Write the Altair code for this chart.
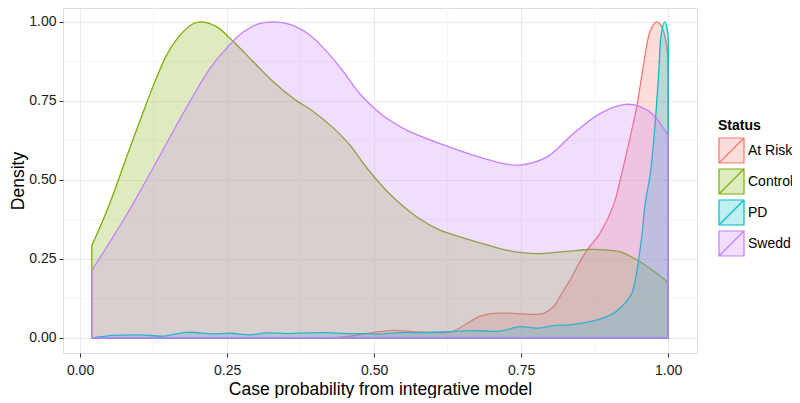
import altair as alt
import pandas as pd

status_order = ["At Risk", "Control", "PD", "Swedd"]
status_colors = ["#F8766D", "#7CAE00", "#00BFC4", "#C77CFF"]
status_fills = ["rgba(248,118,109,0.25)", "rgba(124,174,0,0.25)",
                "rgba(0,191,196,0.25)", "rgba(199,124,255,0.25)"]

x_ticks = [0.0, 0.25, 0.5, 0.75, 1.0]
y_ticks = [0.0, 0.25, 0.5, 0.75, 1.0]
minor_breaks = [0.125, 0.375, 0.625, 0.875]

at_risk_x = [0.02, 0.30, 0.43, 0.46, 0.48, 0.51, 0.533, 0.567, 0.601, 0.632, 0.658, 0.68, 0.703,
             0.737, 0.765, 0.788, 0.805, 0.819, 0.833, 0.848, 0.862, 0.884, 0.907, 0.921, 0.935,
             0.947, 0.958, 0.969, 0.98, 0.989, 0.998, 1.0]
at_risk_y = [0.0, 0.0, 0.001, 0.006, 0.012, 0.02, 0.024, 0.02, 0.017, 0.02, 0.046, 0.069, 0.078,
             0.078, 0.075, 0.078, 0.099, 0.141, 0.183, 0.235, 0.278, 0.331, 0.42, 0.52, 0.632,
             0.737, 0.863, 0.969, 1.0, 0.985, 0.917, 0.822]

control_x = [0.02, 0.04, 0.057, 0.079, 0.102, 0.125, 0.147, 0.17, 0.193, 0.207, 0.232, 0.261,
             0.295, 0.329, 0.363, 0.397, 0.431, 0.459, 0.488, 0.527, 0.573, 0.612, 0.646, 0.68,
             0.714, 0.751, 0.782, 0.828, 0.867, 0.896, 0.918, 0.952, 0.981, 1.0]
control_y = [0.293, 0.377, 0.458, 0.572, 0.688, 0.80, 0.894, 0.958, 0.995, 1.0, 0.985, 0.937,
             0.873, 0.81, 0.758, 0.716, 0.664, 0.61, 0.537, 0.455, 0.383, 0.341, 0.32, 0.301,
             0.283, 0.27, 0.267, 0.274, 0.28, 0.278, 0.273, 0.241, 0.204, 0.175]

pd_x = [0.02, 0.057, 0.102, 0.142, 0.181, 0.227, 0.255, 0.29, 0.317, 0.351, 0.385, 0.42, 0.454,
        0.488, 0.51, 0.544, 0.578, 0.624, 0.669, 0.714, 0.748, 0.777, 0.805, 0.839, 0.879, 0.907,
        0.918, 0.938, 0.947, 0.955, 0.961, 0.97, 0.978, 0.984, 0.988, 0.994, 0.999, 1.0]
pd_y = [0.0, 0.008, 0.01, 0.006, 0.018, 0.013, 0.015, 0.01, 0.016, 0.014, 0.016, 0.017, 0.014,
        0.014, 0.012, 0.017, 0.017, 0.02, 0.023, 0.022, 0.036, 0.031, 0.039, 0.043, 0.057, 0.078,
        0.094, 0.141, 0.215, 0.32, 0.426, 0.525, 0.684, 0.842, 0.958, 1.0, 0.969, 0.9]

swedd_x = [0.02, 0.051, 0.079, 0.108, 0.136, 0.164, 0.193, 0.221, 0.249, 0.278, 0.306, 0.329,
           0.357, 0.391, 0.42, 0.448, 0.476, 0.502, 0.527, 0.556, 0.612, 0.669, 0.714, 0.748,
           0.794, 0.839, 0.884, 0.927, 0.952, 0.975, 1.0]
swedd_y = [0.214, 0.305, 0.389, 0.484, 0.578, 0.673, 0.768, 0.853, 0.917, 0.969, 0.995, 1.0,
           0.992, 0.958, 0.905, 0.842, 0.772, 0.724, 0.688, 0.657, 0.615, 0.578, 0.554, 0.547,
           0.573, 0.647, 0.71, 0.739, 0.732, 0.705, 0.641]

series = [
    ("At Risk", at_risk_x, at_risk_y),
    ("Control", control_x, control_y),
    ("PD", pd_x, pd_y),
    ("Swedd", swedd_x, swedd_y),
]
rows = []
for name, xs, ys in series:
    for xv, yv in zip(xs, ys):
        rows.append({"status": name, "x": xv, "y": yv, "base": 0.0})
df = pd.DataFrame(rows)

FONT = "Liberation Sans"
x_scale = alt.Scale(domain=[-0.029, 1.049], nice=False, zero=False)
y_scale = alt.Scale(domain=[-0.0475, 1.044], nice=False, zero=False)
fill_scale = alt.Scale(domain=status_order, range=status_fills)
stroke_scale = alt.Scale(domain=status_order, range=status_colors)

x_axis = alt.Axis(
    values=x_ticks, format=".2f", title="Case probability from integrative model",
    grid=True, gridColor="#EBEBEB", tickColor="#333333", tickSize=4, domain=False,
    labelFontSize=14, labelColor="#1a1a1a", labelPadding=6, titleFontSize=17.5,
    titleFontWeight="normal", titleColor="black", titlePadding=3,
    labelFont=FONT, titleFont=FONT)
y_axis = alt.Axis(
    values=y_ticks, format=".2f", title="Density",
    grid=True, gridColor="#EBEBEB", tickColor="#333333", tickSize=4, domain=False,
    labelFontSize=14, labelColor="#1a1a1a", labelPadding=3, titleFontSize=17.5,
    titleFontWeight="normal", titleColor="black", titleX=-45, titleBaseline="middle",
    labelFont=FONT, titleFont=FONT)

legend = alt.Legend(
    title="Status", orient="none", legendX=655, legendY=111,
    symbolType="M-1,-1H1V1H-1Z M-1,1L1,-1", symbolSize=625, symbolStrokeWidth=1.2,
    rowPadding=0, labelFontSize=14, titleFontSize=14, titleFontWeight="bold",
    labelOffset=3, titlePadding=4, titleColor="black", labelColor="black",
    labelFont=FONT, titleFont=FONT, padding=0,
)

minor_x = alt.Chart(pd.DataFrame({"x": minor_breaks})).mark_rule(
    color="#F5F5F5", strokeWidth=1
).encode(x=alt.X("x:Q", scale=x_scale, axis=x_axis))

minor_y = alt.Chart(pd.DataFrame({"y": minor_breaks})).mark_rule(
    color="#F5F5F5", strokeWidth=1
).encode(y=alt.Y("y:Q", scale=y_scale, axis=y_axis))

areas = alt.Chart(df).mark_area(
    fillOpacity=1, strokeWidth=1.3, strokeJoin="round", interpolate="catmull-rom"
).encode(
    x=alt.X("x:Q", scale=x_scale, axis=x_axis),
    y=alt.Y("y:Q", scale=y_scale, axis=y_axis),
    y2="base:Q",
    fill=alt.Fill("status:N", scale=fill_scale, legend=legend),
    stroke=alt.Stroke("status:N", scale=stroke_scale, legend=legend),
    order=alt.Order("status:N"),
)

chart = alt.layer(minor_x, minor_y, areas).properties(
    width=634, height=345,
    autosize=alt.AutoSizeParams(type="none"),
    padding={"left": 55, "top": 0, "right": 95, "bottom": 45},
).configure_view(stroke="#8a8a8a", strokeWidth=1).configure(font=FONT)

chart.save("out.html", embed_options={"renderer": "svg", "actions": False})
